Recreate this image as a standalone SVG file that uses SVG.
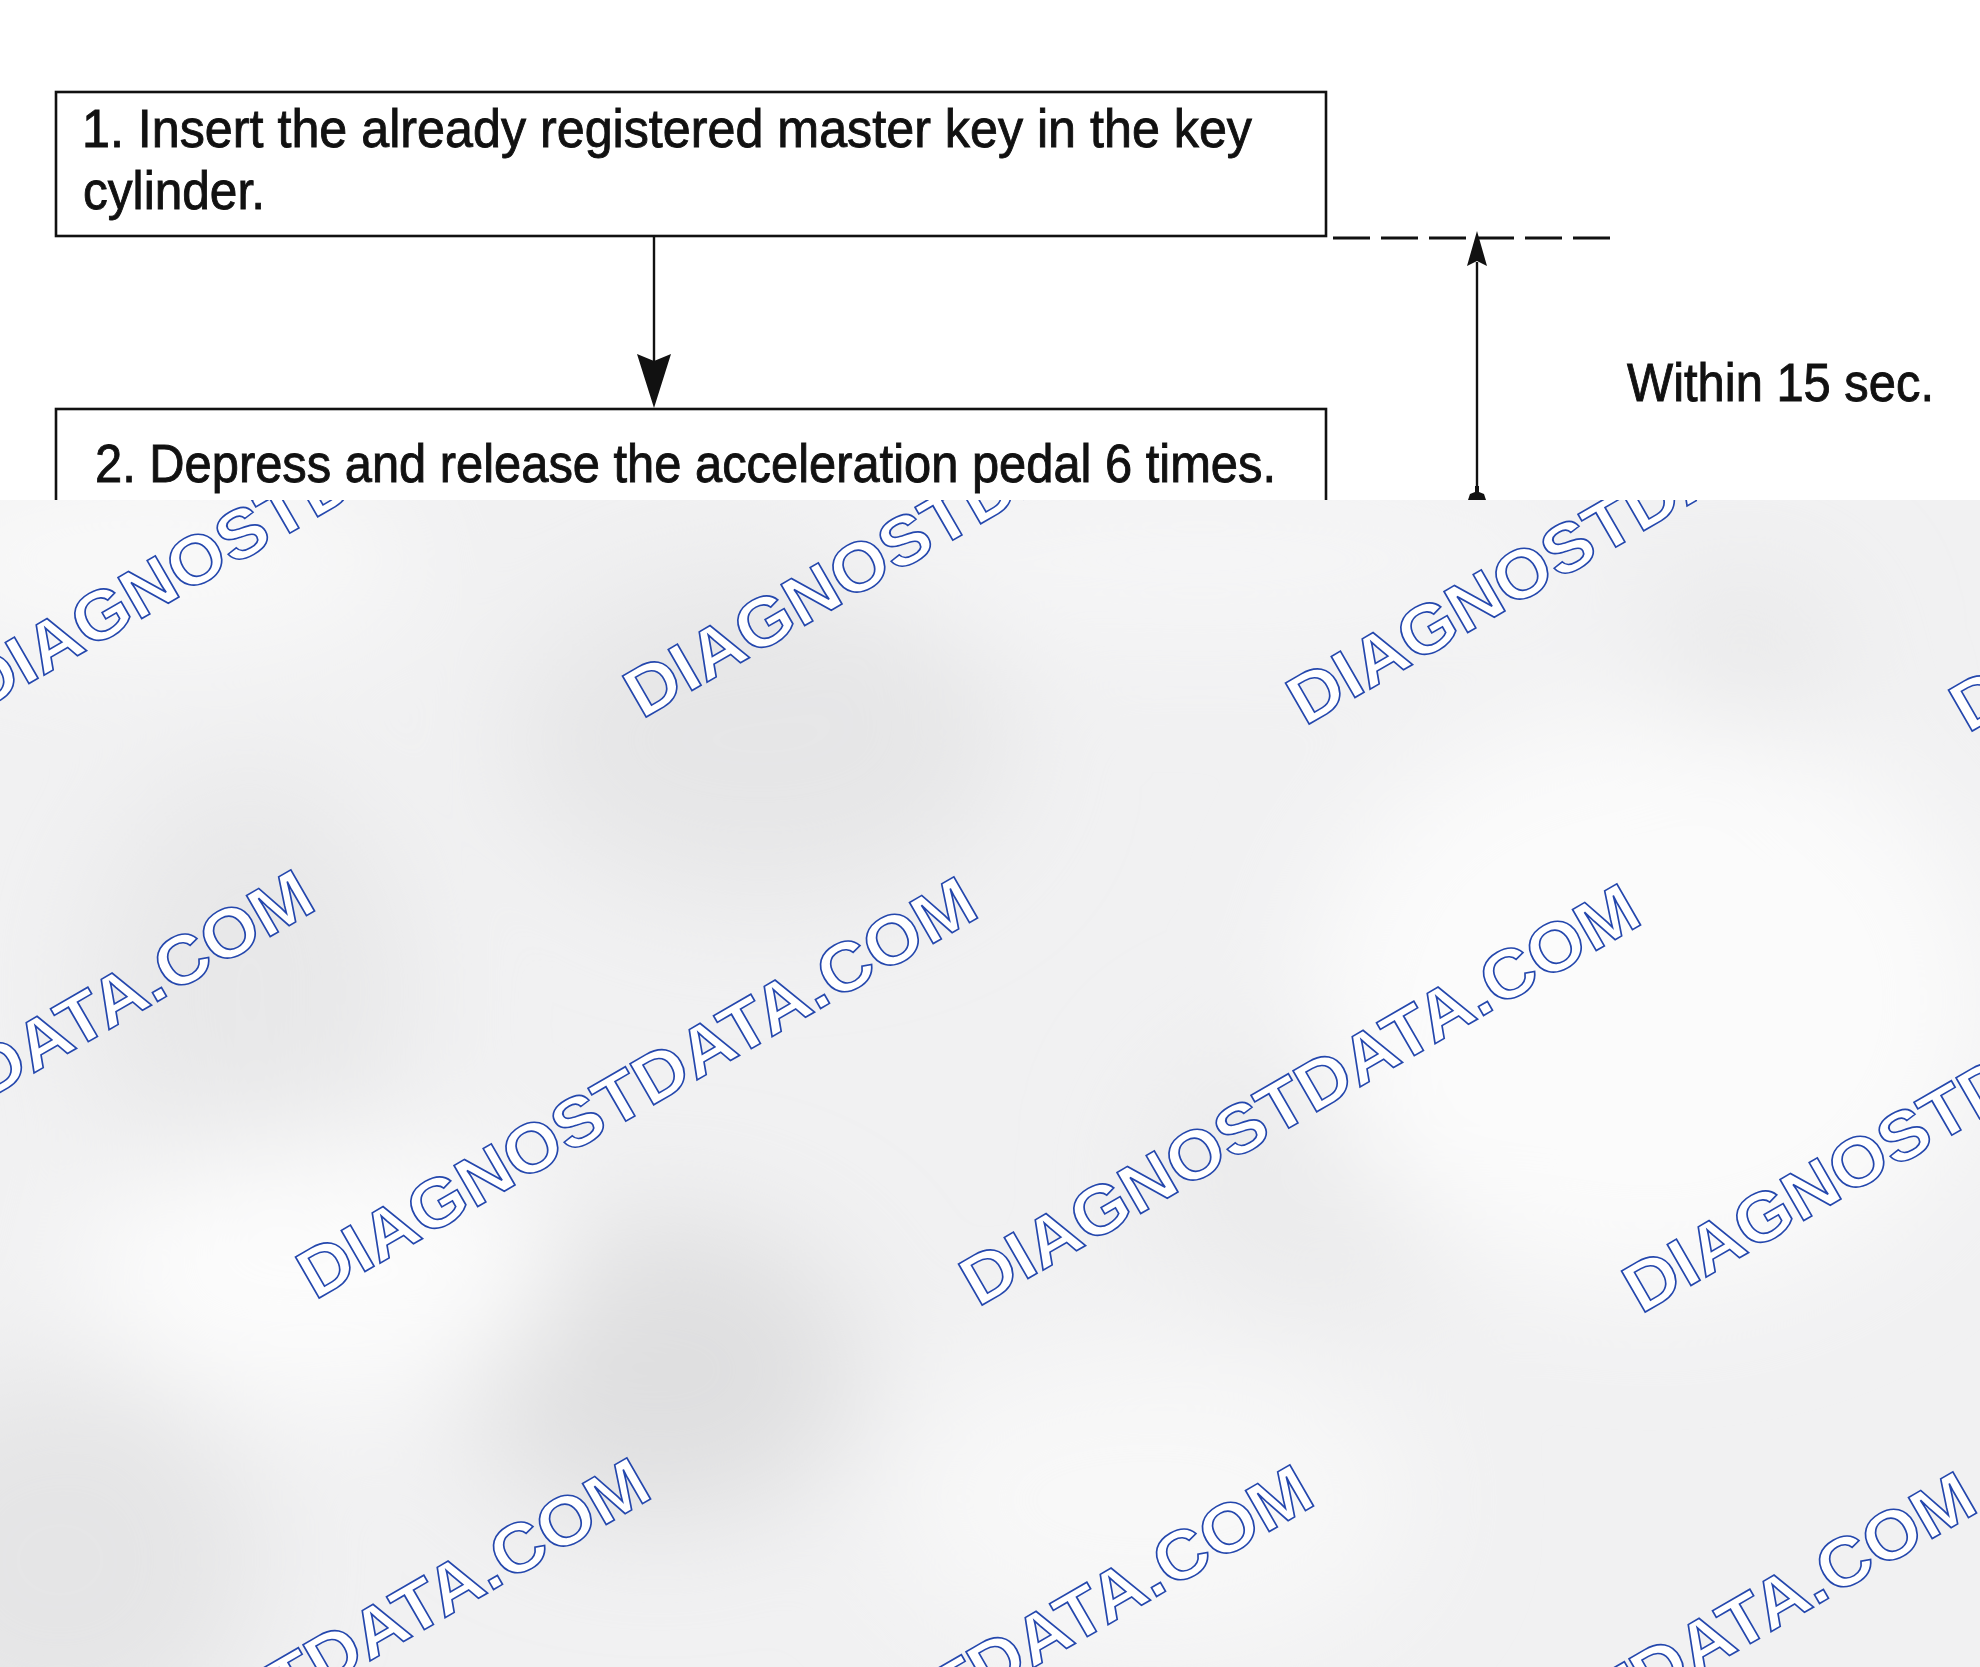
<svg xmlns="http://www.w3.org/2000/svg" width="1980" height="1667" viewBox="0 0 1980 1667">
  <defs>
    <style>
      .box { fill: #ffffff; stroke: #111111; stroke-width: 2.6; }
      .lbl { font-family: "Liberation Sans", Arial, sans-serif; font-size: 53px; fill: #111111; stroke: #111111; stroke-width: 0.9; }
      .line { stroke: #111111; stroke-width: 2.4; fill: none; }
      .dash { stroke: #111111; stroke-width: 3; stroke-dasharray: 37 11; fill: none; }
      .head { fill: #111111; stroke: none; }
      .wm { font-family: "Liberation Sans", Arial, sans-serif; font-weight: bold; font-size: 69px; fill: #ffffff; stroke: #2447ad; stroke-width: 1.6; }
    </style>
    <clipPath id="grayClip">
      <rect x="0" y="500" width="1980" height="1167"/>
    </clipPath>
    <filter id="blur" x="-50%" y="-50%" width="200%" height="200%">
      <feGaussianBlur stdDeviation="60"/>
    </filter>
  </defs>

  <rect x="0" y="0" width="1980" height="1667" fill="#ffffff"/>

  <g id="node1">
    <rect class="box" x="56" y="92" width="1270" height="144"/>
    <text class="lbl" x="82" y="147" textLength="1170" lengthAdjust="spacingAndGlyphs">1. Insert the already registered master key in the key</text>
    <text class="lbl" x="83" y="209" textLength="182" lengthAdjust="spacingAndGlyphs">cylinder.</text>
  </g>

  <g id="node2">
    <rect class="box" x="56" y="409" width="1270" height="200"/>
    <text class="lbl" x="95" y="482" textLength="1181" lengthAdjust="spacingAndGlyphs">2. Depress and release the acceleration pedal 6 times.</text>
  </g>

  <g id="connectors">
    <line class="line" x1="654" y1="236" x2="654" y2="362"/>
    <polygon class="head" points="654,408 671,354 654,361 637,354"/>
    <line class="dash" x1="1333" y1="238" x2="1612" y2="238"/>
    <line class="line" x1="1477" y1="262" x2="1477" y2="500"/>
    <polygon class="head" points="1477,231 1487,266 1477,261 1467,266"/>
    <polygon class="head" points="1468,500 1470,494 1475,492 1475,486 1479,486 1479,492 1484,494 1486,500"/>
  </g>

  <g id="label-within">
    <text class="lbl" x="1627" y="401" textLength="307" lengthAdjust="spacingAndGlyphs">Within 15 sec.</text>
  </g>

  <g id="watermark-area">
    <rect x="0" y="500" width="1980" height="1167" fill="#f1f1f2"/>
    <g clip-path="url(#grayClip)">
      <g filter="url(#blur)">
        <ellipse cx="760" cy="740" rx="250" ry="160" fill="#e6e6e7"/>
        <ellipse cx="250" cy="990" rx="160" ry="220" fill="#e8e8e9"/>
        <ellipse cx="660" cy="1370" rx="200" ry="150" fill="#dfdfe0"/>
        <ellipse cx="60" cy="1560" rx="200" ry="190" fill="#e5e5e6"/>
        <ellipse cx="1745" cy="670" rx="90" ry="90" fill="#e8e8e9"/>
        <ellipse cx="1330" cy="1180" rx="180" ry="140" fill="#ebebec"/>
        <ellipse cx="320" cy="1270" rx="240" ry="130" fill="#fcfcfc"/>
        <ellipse cx="1650" cy="1000" rx="340" ry="290" fill="#fbfbfb"/>
        <ellipse cx="1150" cy="1500" rx="260" ry="150" fill="#f8f8f8"/>
        <ellipse cx="150" cy="560" rx="260" ry="90" fill="#f9f9f9"/>
        <ellipse cx="1200" cy="560" rx="400" ry="70" fill="#f6f6f7"/>
      </g>
      <g id="watermarks">
        <text class="wm" x="0" y="0" textLength="770" lengthAdjust="spacingAndGlyphs" transform="translate(1968,733.5) rotate(-30)">DIAGNOSTDATA.COM</text>
        <text class="wm" x="0" y="0" textLength="770" lengthAdjust="spacingAndGlyphs" transform="translate(1305,726.5) rotate(-30)">DIAGNOSTDATA.COM</text>
        <text class="wm" x="0" y="0" textLength="770" lengthAdjust="spacingAndGlyphs" transform="translate(642,719.5) rotate(-30)">DIAGNOSTDATA.COM</text>
        <text class="wm" x="0" y="0" textLength="770" lengthAdjust="spacingAndGlyphs" transform="translate(-21,712.5) rotate(-30)">DIAGNOSTDATA.COM</text>
        <text class="wm" x="0" y="0" textLength="770" lengthAdjust="spacingAndGlyphs" transform="translate(1641,1314.5) rotate(-30)">DIAGNOSTDATA.COM</text>
        <text class="wm" x="0" y="0" textLength="770" lengthAdjust="spacingAndGlyphs" transform="translate(978,1307.5) rotate(-30)">DIAGNOSTDATA.COM</text>
        <text class="wm" x="0" y="0" textLength="770" lengthAdjust="spacingAndGlyphs" transform="translate(315,1300.5) rotate(-30)">DIAGNOSTDATA.COM</text>
        <text class="wm" x="0" y="0" textLength="770" lengthAdjust="spacingAndGlyphs" transform="translate(-348,1293.5) rotate(-30)">DIAGNOSTDATA.COM</text>
        <text class="wm" x="0" y="0" textLength="770" lengthAdjust="spacingAndGlyphs" transform="translate(1314,1895.5) rotate(-30)">DIAGNOSTDATA.COM</text>
        <text class="wm" x="0" y="0" textLength="770" lengthAdjust="spacingAndGlyphs" transform="translate(651,1888.5) rotate(-30)">DIAGNOSTDATA.COM</text>
        <text class="wm" x="0" y="0" textLength="770" lengthAdjust="spacingAndGlyphs" transform="translate(-12,1881.5) rotate(-30)">DIAGNOSTDATA.COM</text>
      </g>
    </g>
  </g>
</svg>
